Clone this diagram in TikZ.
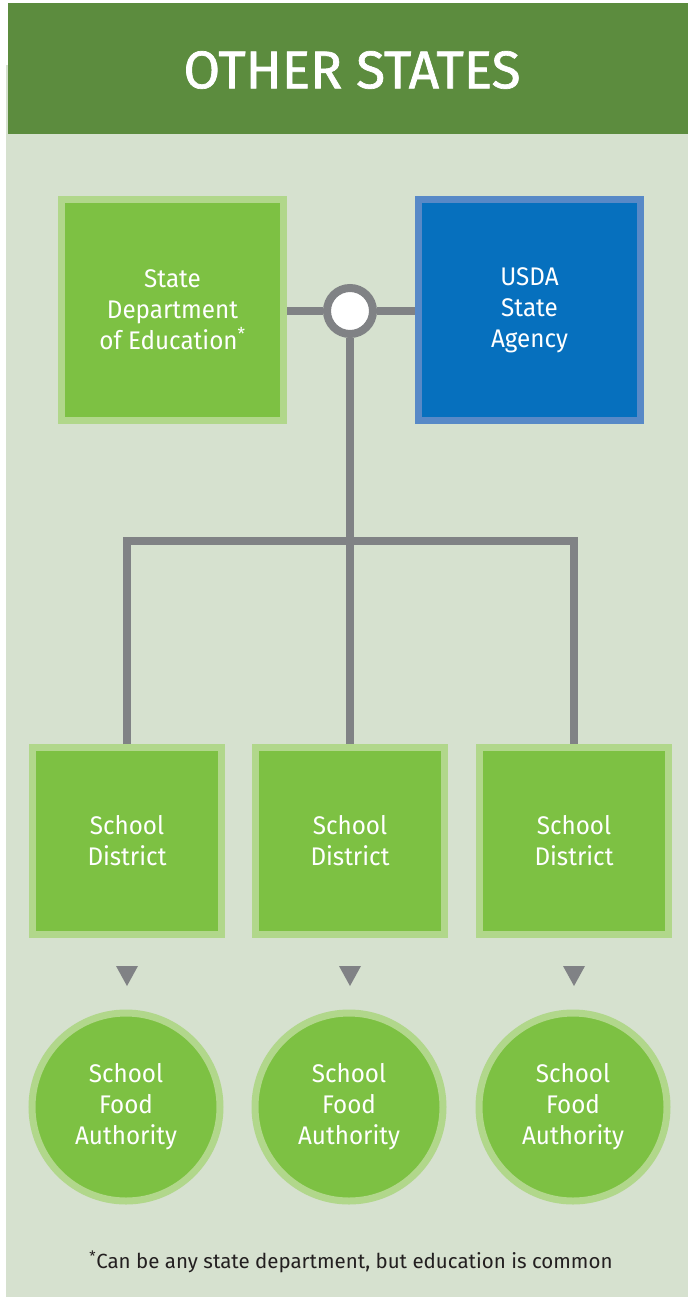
\documentclass[tikz,border=0pt]{standalone}
\usepackage{fontspec}
\setmainfont{Fira Sans}
\newfontfamily\headfont[FakeBold=1.3]{Fira Sans}
\newfontfamily\bodyfont[FakeStretch=0.95]{Fira Sans}
\newfontfamily\notefont{Fira Sans}
\usetikzlibrary{calc}
\definecolor{headgreen}{HTML}{5C8C3E}
\definecolor{bgcol}{HTML}{D6E1CF}
\definecolor{boxgreen}{HTML}{7DC143}
\definecolor{boxedge}{HTML}{B1D78B}
\definecolor{boxblue}{HTML}{0670BE}
\definecolor{blueedge}{HTML}{5889C7}
\definecolor{linegray}{HTML}{808285}
\definecolor{notecol}{HTML}{231F20}
\begin{document}
\begin{tikzpicture}[x=1pt,y=-1pt,
  boxtext/.style={text=white, align=center, font=\bodyfont\fontsize{25.5}{31}\selectfont},
  topbox/.style={boxtext, draw=boxedge, fill=boxgreen, line width=7pt, minimum width=222pt, minimum height=221pt, inner sep=0pt},
  bluebox/.style={topbox, draw=blueedge, fill=boxblue},
  sdbox/.style={boxtext, draw=boxedge, fill=boxgreen, line width=7pt, minimum width=189pt, minimum height=187pt, inner sep=0pt},
  sfa/.style={boxtext, circle, draw=boxedge, fill=boxgreen, line width=7pt, minimum size=188pt, inner sep=0pt},
  joint/.style={circle, draw=linegray, fill=white, line width=8pt, minimum size=46pt, inner sep=0pt},
  conn/.style={draw=linegray, line width=8pt},
  tri/.style={fill=linegray}
]
\useasboundingbox (0,0) rectangle (688,1297);
\fill[white] (0,0) rectangle (688,1297);
\fill[bgcol] (6,65) rectangle (688,1297);
\fill[headgreen] (8,3) rectangle (688,134);
\node[text=white, font=\headfont\fontsize{53}{58}\selectfont] (title) at (352,70) {OTHER STATES};

\node[topbox] (sde) at (172.5,310) {State\\Department\\of Education\textsuperscript{*}};
\node[bluebox] (usda) at (529.5,310) {USDA\\State\\Agency};
\node[joint] (hub) at (350,311) {};

\node[sdbox] (sd1) at (127,841) {School\\District};
\node[sdbox] (sd2) at (350,841) {School\\District};
\node[sdbox] (sd3) at (574,841) {School\\District};

\node[sfa] (sfa1) at (126,1107) {School\\Food\\Authority};
\node[sfa] (sfa2) at (349,1107) {School\\Food\\Authority};
\node[sfa] (sfa3) at (573,1107) {School\\Food\\Authority};

\coordinate (jn) at (350,541);
\draw[conn] (sde.east |- hub) -- (hub.west);
\draw[conn] (hub.east) -- (usda.west |- hub);
\draw[conn] (hub.south) -- (sd2.north);
\draw[conn] (sd1.north) |- (jn) -| (sd3.north);

\foreach \i in {1,2,3}{
  \fill[tri] ($(sd\i.south)+(-11,28)$) -- ++(22,0) -- ++(-11,20) -- cycle;
}

\node[text=notecol, font=\notefont\fontsize{20.5}{24}\selectfont] (note) at (351,1262) {\textsuperscript{*}Can be any state department, but education is common};
\end{tikzpicture}
\end{document}
